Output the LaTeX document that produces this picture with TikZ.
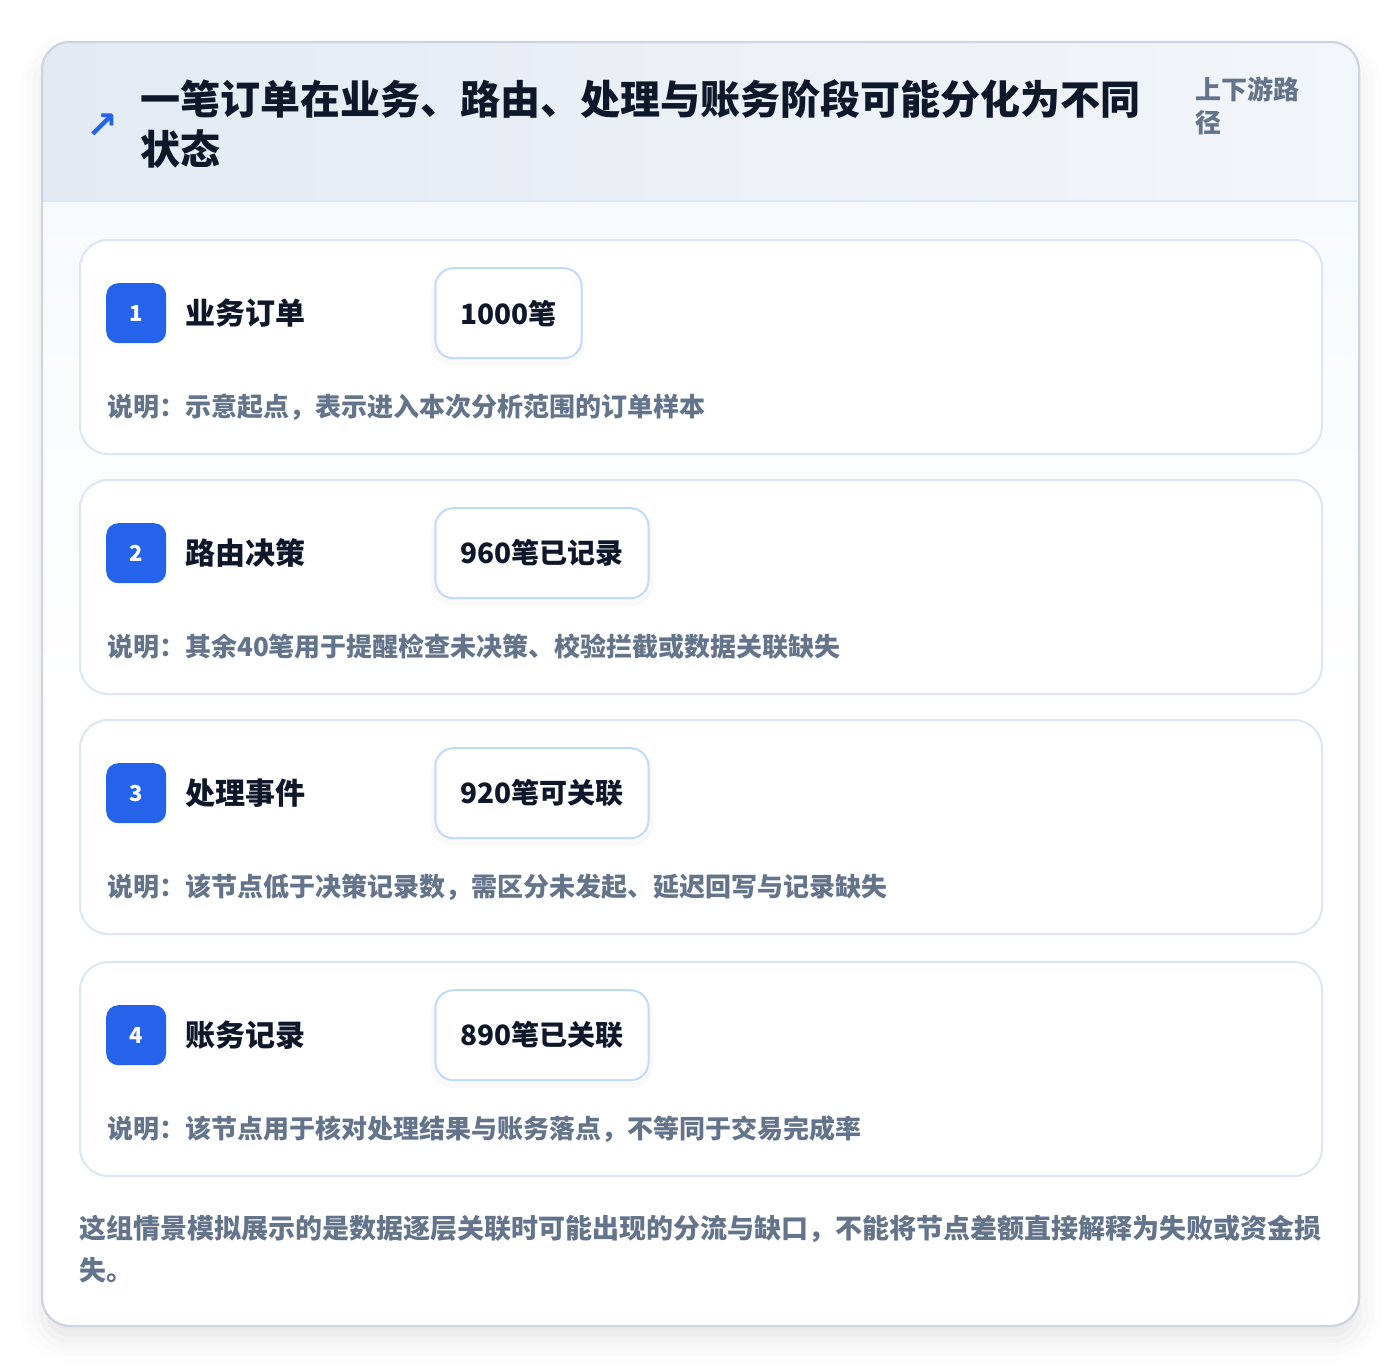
\documentclass[tikz,border=0pt]{standalone}
\usepackage{fontspec}
\setmainfont{Noto Sans CJK SC}
\newfontfamily\symfont{DejaVu Sans}
\usepackage{tikz}
\usetikzlibrary{positioning,calc,shadows.blur}
\definecolor{ink}{HTML}{0F172A}
\definecolor{slate}{HTML}{64748B}
\definecolor{brand}{HTML}{2563EB}
\definecolor{panelline}{HTML}{CBD5E1}
\definecolor{cardline}{HTML}{DBE7F6}
\definecolor{valline}{HTML}{BFDBFE}
\definecolor{headleft}{HTML}{E3EAF3}
\definecolor{headright}{HTML}{F3F6FA}
\definecolor{bodytop}{HTML}{F7FAFD}
\tikzset{
  panel/.style={draw=panelline, line width=2pt, rounded corners=28pt, fill=white,
    minimum width=1317pt, minimum height=1284pt, anchor=north west, inner sep=0pt,
    blur shadow={shadow xshift=0pt, shadow yshift=-14pt, shadow blur radius=22pt, shadow opacity=10}},
  stage card/.style={draw=cardline, line width=2pt, rounded corners=28pt, fill=white,
    minimum width=1242pt, minimum height=214pt, anchor=north west, inner sep=0pt},
  badge/.style={fill=brand, rounded corners=12pt, minimum size=60pt, inner sep=0pt,
    text=white, font=\bfseries\fontsize{22}{26}\selectfont},
  stage name/.style={inner sep=0pt, anchor=west, text=ink, font=\bfseries\fontsize{30}{36}\selectfont},
  count box/.style={draw=valline, line width=2pt, rounded corners=18pt, fill=white,
    minimum height=90pt, inner xsep=25pt, anchor=west, text=ink,
    font=\bfseries\fontsize{28}{34}\selectfont},
  note/.style={inner sep=0pt, anchor=west, text=slate, font=\bfseries\fontsize{26}{32}\selectfont},
}
\begin{document}
\begin{tikzpicture}[x=1pt, y=-1pt]
  \useasboundingbox (0,0) rectangle (1400,1366);
  % Panel and header band
  \node[panel] (board) at (41,41) {};
  \shade[left color=headleft, right color=headright, rounded corners=28pt]
    (41,201) -- (41,41) -- (1358,41) -- (1358,201);
  \draw[cardline, line width=2pt] (42,201) -- (1357,201);
  \shade[top color=bodytop, bottom color=white] (42,202) rectangle (1357,700);
  \node[draw=panelline, line width=2pt, rounded corners=28pt,
    minimum width=1317pt, minimum height=1284pt, anchor=north west, inner sep=0pt] (frame) at (41,41) {};
  % Header texts
  \node[inner sep=0pt, text=brand, font=\symfont\bfseries\fontsize{38}{38}\selectfont] (icon) at (102,126) {↗};
  \node[inner sep=0pt, anchor=north west, align=left, text=ink,
    font=\bfseries\fontsize{40}{50}\selectfont] (title) at (140,79)
    {一笔订单在业务、路由、处理与账务阶段可能分化为不同\\状态};
  \node[inner sep=0pt, anchor=north west, align=left, text=slate,
    font=\bfseries\fontsize{26}{33}\selectfont] (scope) at (1195,77)
    {上下游路\\径};
  % Stage 1
  \node[stage card] (card1) at (79,239) {};
  \node[badge] [below right=44pt and 27pt of card1.north west] (num1) {1};
  \node[stage name] [right=19pt of num1] (name1) {业务订单};
  \fill[black, opacity=0.025, rounded corners=20pt] (431,272) rectangle (583,366);
  \node[count box] [right=268pt of num1] (val1) {1000笔};
  \node[note] (note1) at ($(card1.north west)+(28,168)$) {说明：示意起点，表示进入本次分析范围的订单样本};
  % Stage 2
  \node[stage card] (card2) at (79,479) {};
  \node[badge] [below right=44pt and 27pt of card2.north west] (num2) {2};
  \node[stage name] [right=19pt of num2] (name2) {路由决策};
  \fill[black, opacity=0.025, rounded corners=20pt] (431,512) rectangle (653,606);
  \node[count box] [right=268pt of num2] (val2) {960笔已记录};
  \node[note] (note2) at ($(card2.north west)+(28,168)$) {说明：其余40笔用于提醒检查未决策、校验拦截或数据关联缺失};
  % Stage 3
  \node[stage card] (card3) at (79,719) {};
  \node[badge] [below right=44pt and 27pt of card3.north west] (num3) {3};
  \node[stage name] [right=19pt of num3] (name3) {处理事件};
  \fill[black, opacity=0.025, rounded corners=20pt] (431,752) rectangle (653,846);
  \node[count box] [right=268pt of num3] (val3) {920笔可关联};
  \node[note] (note3) at ($(card3.north west)+(28,168)$) {说明：该节点低于决策记录数，需区分未发起、延迟回写与记录缺失};
  % Stage 4
  \node[stage card] (card4) at (79,961) {};
  \node[badge] [below right=44pt and 27pt of card4.north west] (num4) {4};
  \node[stage name] [right=19pt of num4] (name4) {账务记录};
  \fill[black, opacity=0.025, rounded corners=20pt] (431,994) rectangle (653,1088);
  \node[count box] [right=268pt of num4] (val4) {890笔已关联};
  \node[note] (note4) at ($(card4.north west)+(28,168)$) {说明：该节点用于核对处理结果与账务落点，不等同于交易完成率};
  % Footer remark
  \node[inner sep=0pt, anchor=north west, align=left, text=slate,
    font=\bfseries\fontsize{27}{42}\selectfont] (remark) at (79,1215)
    {这组情景模拟展示的是数据逐层关联时可能出现的分流与缺口，不能将节点差额直接解释为失败或资金损\\失。};
\end{tikzpicture}
\end{document}
